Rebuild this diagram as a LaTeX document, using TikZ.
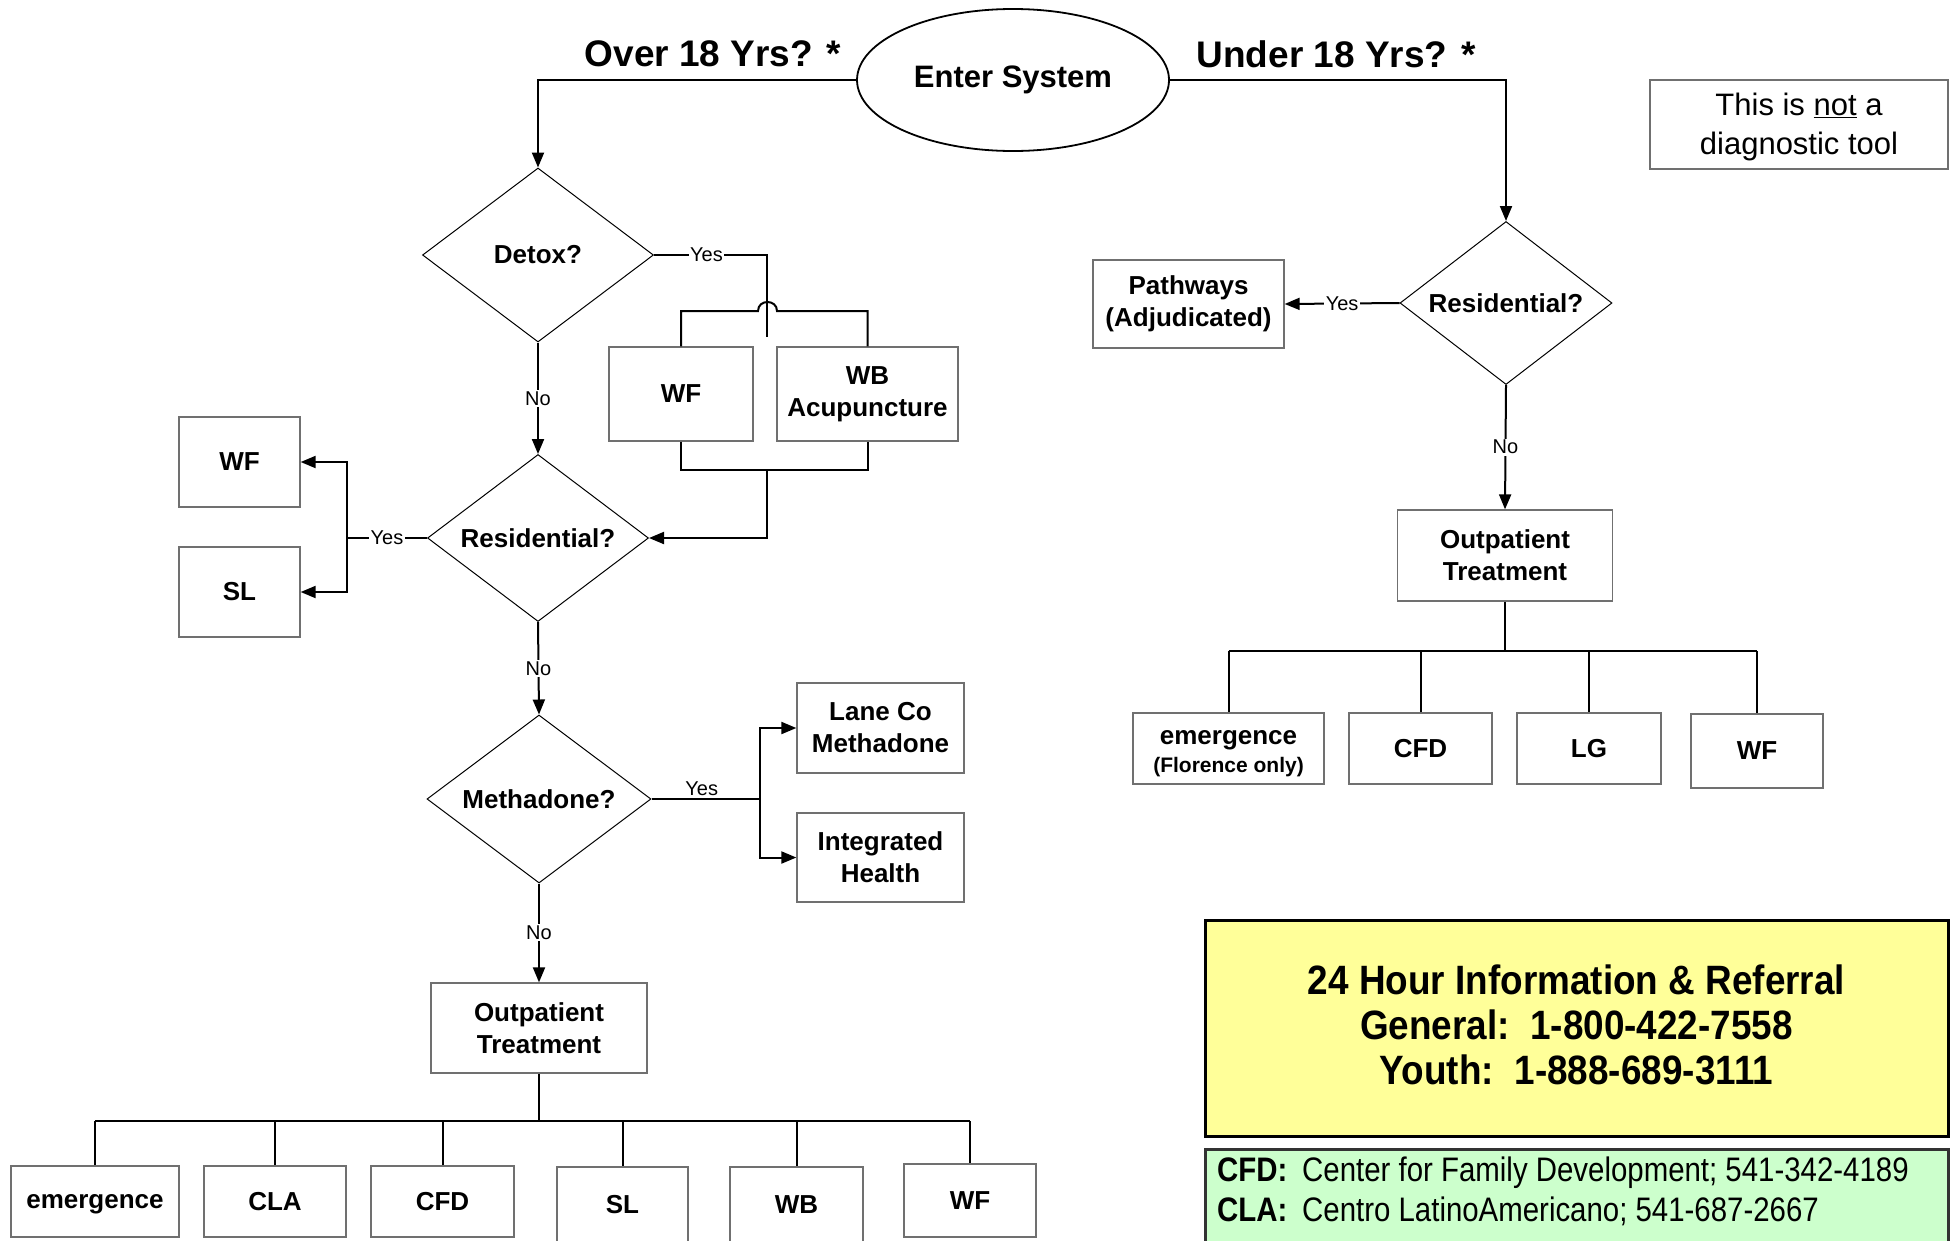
\documentclass[tikz,border=0pt]{standalone}
\usepackage{fontspec}
\setmainfont{Liberation Sans}
\newfontfamily\narrowfont[FakeStretch=0.9]{Liberation Sans}
\newfontfamily\legendfont[FakeStretch=0.865]{Liberation Sans}
\usetikzlibrary{shapes.geometric,arrows.meta}
\definecolor{boxgray}{HTML}{707070}
\definecolor{infoyellow}{HTML}{FFFF99}
\definecolor{infogreen}{HTML}{CCFFCC}
\begin{document}
\begin{tikzpicture}[x=1pt,y=-1pt,
  box/.style={draw=boxgray, line width=1.3pt, fill=white, inner sep=0pt, align=center,
    font=\fontsize{26}{32}\selectfont\bfseries},
  boxtext/.style={inner sep=0pt, align=center, font=\fontsize{26}{32}\selectfont\bfseries},
  dia/.style={diamond, draw=black, line width=1pt, inner sep=0pt, aspect=1.33,
    font=\fontsize{26}{32}\selectfont\bfseries},
  oval/.style={ellipse, draw=black, line width=1.8pt, inner sep=0pt,
    minimum width=312pt, minimum height=142pt, font=\fontsize{31}{36}\selectfont\bfseries},
  toplbl/.style={inner sep=0pt, font=\fontsize{37}{44}\selectfont\bfseries},
  conn/.style={line width=2pt, draw=black},
  arr/.style={conn, -{Triangle[length=15pt,width=12pt]}},
  lbl/.style={fill=white, inner sep=1.5pt, font=\fontsize{20}{24}\selectfont},
  legk/.style={anchor=base west, inner sep=0pt, font=\legendfont\fontsize{34}{40}\selectfont\bfseries},
  legv/.style={anchor=base west, inner sep=0pt, font=\legendfont\fontsize{34}{40}\selectfont},
]
\fill[white] (0,0) rectangle (1958,1240);
\clip (0,0) rectangle (1958,1240);

% top
\node[oval] (enter) at (1013,80) {Enter System};
\node[toplbl] (over) at (713,54) {Over 18 Yrs? *};
\node[toplbl] (under) at (1336,54) {Under 18 Yrs? *};

% diamonds
\node[dia, minimum width=231pt, minimum height=174pt] (detox) at (538,255) {Detox?};
\node[dia, minimum width=221pt, minimum height=167pt] (resl) at (538,538) {Residential?};
\node[dia, minimum width=224pt, minimum height=168pt] (meth) at (539,799) {Methadone?};
\node[dia, minimum width=212pt, minimum height=163pt] (resr) at (1506,303) {Residential?};

% left boxes
\node[box, minimum width=144pt, minimum height=94pt] (wfd) at (681,394) {WF};
\node[box, minimum width=181pt, minimum height=94pt] (wb) at (867.5,394) {WB\\Acupuncture};
\node[box, minimum width=121pt, minimum height=90pt] (wfl) at (239.5,462) {WF};
\node[box, minimum width=121pt, minimum height=90pt] (sll) at (239.5,592) {SL};
\node[box, minimum width=167pt, minimum height=90pt] (lane) at (880.5,728) {Lane Co\\Methadone};
\node[box, minimum width=167pt, minimum height=89pt] (integ) at (880.5,857.5) {Integrated\\Health};
\node[box, minimum width=216pt, minimum height=90pt] (opl) at (539,1028) {Outpatient\\Treatment};

% bottom leaves
\node[box, minimum width=168pt, minimum height=71pt, text depth=0pt] (em) at (95,1201.5) {emergence};
\node[box, minimum width=142pt, minimum height=71pt] (cla) at (275,1201.5) {CLA};
\node[box, minimum width=143pt, minimum height=71pt] (cfd) at (442.5,1201.5) {CFD};
\node[box, minimum width=131pt, minimum height=75pt] (slb) at (622.5,1204.5) {SL};
\node[box, minimum width=133pt, minimum height=75pt] (wbb) at (796.5,1204.5) {WB};
\node[box, minimum width=132pt, minimum height=73pt] (wfb) at (970,1200.5) {WF};

% right side
\node[box, minimum width=191pt, minimum height=88pt] (path) at (1188.5,304) {Pathways\\(Adjudicated)};
\node[box, minimum width=215pt, minimum height=91pt] (opr) at (1505,555.5) {Outpatient\\Treatment};
\node[box, minimum width=191pt, minimum height=71pt] (em2) at (1228.5,748.5) {};
\node[boxtext] (em2t) at (1228.5,754)
  {emergence\\[-4pt]{\fontsize{21}{25}\selectfont (Florence only)}};
\node[box, minimum width=143pt, minimum height=71pt] (cfd2) at (1420.5,748.5) {CFD};
\node[box, minimum width=144pt, minimum height=71pt] (lg) at (1589,748.5) {LG};
\node[box, minimum width=132pt, minimum height=74pt] (wf2) at (1757,751) {WF};

% note
\node[box, minimum width=298pt, minimum height=89pt] (note) at (1799,124.5) {};
\node[boxtext, font=\fontsize{31}{39}\selectfont] (notet) at (1799,127)
  {This is \underline{not} a\\diagnostic tool};

% info boxes
\node[draw=black, line width=3pt, fill=infoyellow, minimum width=743pt, minimum height=216pt,
  inner sep=0pt] (info) at (1576.5,1028) {};
\node[inner sep=0pt, align=center, font=\narrowfont\fontsize{41}{45}\selectfont\bfseries] (infot) at (1576.5,1025)
  {24 Hour Information \& Referral\\General:\ \ 1-800-422-7558\\Youth:\ \ 1-888-689-3111};
\node[draw=black!80, line width=3pt, fill=infogreen, minimum width=743pt, minimum height=160pt,
  inner sep=0pt] (legend) at (1576.5,1229) {};
\node[legk] (cfdk) at (1217,1181) {CFD:};
\node[legv] (cfdv) at (1302,1181) {Center for Family Development; 541-342-4189};
\node[legk] (clak) at (1217,1221) {CLA:};
\node[legv] (clav) at (1302,1221) {Centro LatinoAmericano; 541-687-2667};

% connectors: top
\draw[arr] (enter.west) -| (detox.north);
\draw[arr] (enter.east) -| (resr.north);

% detox yes
\coordinate (hopd) at (767,337);
\draw[conn] (detox.east) -- node[lbl, xshift=-4pt]{Yes} (detox.east -| hopd) -- (hopd);
\coordinate (hl) at (758,311);
\coordinate (hr) at (777,311);
\draw[conn] (wfd.north) |- (hl) .. controls (758,299) and (777,299) .. (hr) -| (wb.north);
\coordinate (bb) at (767,470);
\draw[conn] (wfd.south) |- (bb) -| (wb.south);
\draw[arr] (bb) |- (resl.east);

% no chain
\draw[arr] (detox.south) -- node[lbl]{No} (resl.north);
\draw[arr] (resl.south) -- node[lbl]{No} (meth.north);
\draw[arr] (meth.south) -- node[lbl]{No} (opl.north);
\draw[arr] (resr.south) -- node[lbl]{No} (opr.north);

% residential left yes
\coordinate (ly) at (347,538);
\draw[conn] (resl.west) -- node[lbl]{Yes} (ly);
\draw[arr] (ly) |- (wfl.east);
\draw[arr] (ly) |- (sll.east);

% methadone yes
\coordinate (my) at (760,799);
\draw[conn] (meth.east) -- node[lbl, fill=none, above=1pt, xshift=-4pt]{Yes} (my);
\draw[arr] (my) |- (lane.west);
\draw[arr] (my) |- (integ.west);

% residential right yes
\draw[arr] (resr.west) -- node[lbl]{Yes} (path.east);

% bottom tree
\coordinate (t1) at (539,1121);
\draw[conn] (opl.south) -- (t1);
\draw[conn] (t1 -| em.north) -- (t1 -| wfb.north);
\foreach \n in {em,cla,cfd,slb,wbb,wfb} \draw[conn] (t1 -| \n.north) -- (\n.north);

% right tree
\coordinate (t2) at (1505,651);
\draw[conn] (opr.south) -- (t2);
\draw[conn] (t2 -| em2.north) -- (t2 -| wf2.north);
\foreach \n in {em2,cfd2,lg,wf2} \draw[conn] (t2 -| \n.north) -- (\n.north);
\end{tikzpicture}
\end{document}
